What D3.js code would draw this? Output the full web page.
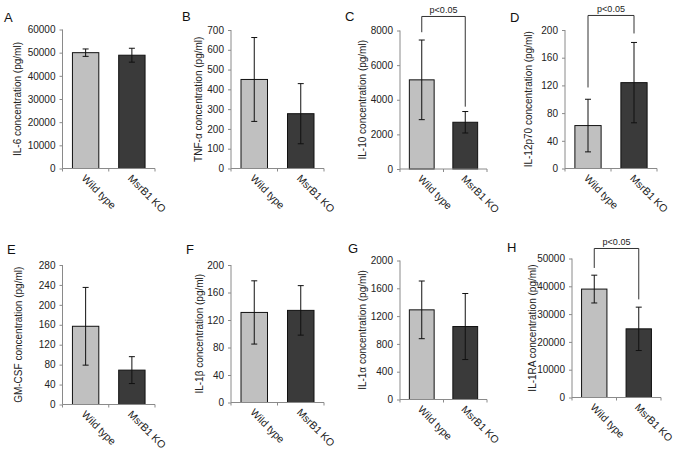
<!DOCTYPE html>
<html>
<head>
<meta charset="utf-8">
<script src="https://cdn.jsdelivr.net/npm/d3@7"></script>
<style>
  body { margin: 0; background: #fff; overflow: hidden; }
  svg { display: block; font-family: "Liberation Sans", Arial, sans-serif; }
  .tick text { fill: #222; }
</style>
</head>
<body>
<div id="chart"></div>
<script>
var categories = ["Wild type", "MsrB1 KO"];
var panelLetters = ["A", "B", "C", "D", "E", "F", "G", "H"];
var yTitles = [
  "IL-6 concentration (pg/ml)",
  "TNF-\u03b1 concentration (pg/ml)",
  "IL-10 concentration (pg/ml)",
  "IL-12p70 concentration (pg/ml)",
  "GM-CSF concentration (pg/ml)",
  "IL-1\u03b2 concentration (pg/ml)",
  "IL-1\u03b1 concentration (pg/ml)",
  "IL-1RA concentration (pg/ml)"
];
var wtMeans  = [50000, 450, 5150, 62, 157, 131, 1290, 39000];
var wtErrors = [1600, 212, 2300, 38, 78, 46, 415, 5000];
var koMeans  = [48900, 277, 2700, 124, 69, 134, 1050, 24700];
var koErrors = [3000, 152, 620, 58, 27, 36, 475, 7800];
var yMax  = [60000, 700, 8000, 200, 280, 200, 2000, 50000];
var yStep = [10000, 100, 2000, 40, 40, 40, 400, 10000];
var sigText = "p<0.05";
// significance brackets in data units: top of bracket, bottom of left leg, bottom of right leg
var brackets = [null, null, [8810, 7900, 3600], [221, 117, 195], null, null, null, [53600, 46600, 35300]];

// where each panel sits on the page
var layout = [
  {x0: 62.5, x1: 155, yTop: 29.5, yBot: 168.5, titleX: 17,  letterX: 4,   letterY: 22},
  {x0: 231,  x1: 324, yTop: 30,   yBot: 168.5, titleX: 198, letterX: 182, letterY: 21},
  {x0: 400,  x1: 487, yTop: 30.5, yBot: 169,   titleX: 362, letterX: 345, letterY: 21},
  {x0: 565,  x1: 657, yTop: 30,   yBot: 168.5, titleX: 528, letterX: 510, letterY: 22},
  {x0: 62.5, x1: 155, yTop: 265,  yBot: 404.5, titleX: 18,  letterX: 7,   letterY: 254},
  {x0: 231,  x1: 324, yTop: 265,  yBot: 402.5, titleX: 199, letterX: 186, letterY: 254},
  {x0: 400,  x1: 487, yTop: 260.5,yBot: 399.5, titleX: 362, letterX: 348, letterY: 253},
  {x0: 572,  x1: 661, yTop: 258.5,yBot: 397.5, titleX: 532, letterX: 507, letterY: 252}
];

var barColors = ["#c0c0c0", "#3a3a3a"];
var axisColor = "#8a8a8a";

var svg = d3.select("#chart").append("svg")
  .attr("width", 675)
  .attr("height", 452);

panelLetters.forEach(function(letter, i) {
  var L = layout[i];
  var g = svg.append("g");

  var x = d3.scaleBand().domain(categories).range([L.x0, L.x1])
    .paddingInner(0.43).paddingOuter(0.215);
  var y = d3.scaleLinear().domain([0, yMax[i]]).range([L.yBot, L.yTop]);

  var rows = [
    {cat: categories[0], mean: wtMeans[i], err: wtErrors[i], color: barColors[0]},
    {cat: categories[1], mean: koMeans[i], err: koErrors[i], color: barColors[1]}
  ];

  // y axis
  var yAxis = d3.axisLeft(y).tickValues(d3.range(0, yMax[i] + yStep[i] / 2, yStep[i]))
    .tickSize(3).tickPadding(4).tickFormat(d3.format("d"));
  var ya = g.append("g").attr("transform", "translate(" + L.x0 + ",0)").call(yAxis);
  ya.selectAll("path, line").attr("stroke", axisColor);
  ya.select(".domain").attr("d", "M0," + L.yTop + "V" + L.yBot);
  ya.selectAll("text").style("font-size", "10px");

  // bars
  g.selectAll(".bar").data(rows).enter().append("rect")
    .attr("x", function(d) { return x(d.cat); })
    .attr("width", x.bandwidth())
    .attr("y", function(d) { return y(d.mean); })
    .attr("height", function(d) { return y(0) - y(d.mean); })
    .attr("fill", function(d) { return d.color; })
    .attr("stroke", "#111")
    .attr("stroke-width", 1);

  // x axis with ticks at category boundaries
  var xa = g.append("g");
  xa.append("line").attr("x1", L.x0).attr("x2", L.x1).attr("y1", L.yBot).attr("y2", L.yBot)
    .attr("stroke", axisColor);
  [L.x0, L.x0 + (L.x1 - L.x0) / 2, L.x1].forEach(function(tx) {
    xa.append("line").attr("x1", tx).attr("x2", tx).attr("y1", L.yBot).attr("y2", L.yBot + 3)
      .attr("stroke", axisColor);
  });

  // error bars
  var eb = g.selectAll(".err").data(rows).enter().append("g");
  eb.append("line")
    .attr("x1", function(d) { return x(d.cat) + x.bandwidth() / 2; })
    .attr("x2", function(d) { return x(d.cat) + x.bandwidth() / 2; })
    .attr("y1", function(d) { return y(d.mean - d.err); })
    .attr("y2", function(d) { return y(d.mean + d.err); })
    .attr("stroke", "#111");
  [-1, 1].forEach(function(s) {
    eb.append("line")
      .attr("x1", function(d) { return x(d.cat) + x.bandwidth() / 2 - 3; })
      .attr("x2", function(d) { return x(d.cat) + x.bandwidth() / 2 + 3; })
      .attr("y1", function(d) { return y(d.mean + s * d.err); })
      .attr("y2", function(d) { return y(d.mean + s * d.err); })
      .attr("stroke", "#111");
  });

  // category labels, rotated
  g.selectAll(".cat").data(categories).enter().append("text")
    .attr("transform", function(d) {
      return "translate(" + (x(d) + x.bandwidth() / 2 - 2) + "," + (L.yBot + 8) + ") rotate(45)";
    })
    .attr("dy", "0.35em")
    .style("font-size", "10.5px")
    .attr("fill", "#222")
    .text(function(d) { return d; });

  // y title
  g.append("text")
    .attr("transform", "translate(" + L.titleX + "," + ((L.yTop + L.yBot) / 2) + ") rotate(-90)")
    .attr("text-anchor", "middle")
    .attr("dy", "0.35em")
    .style("font-size", "10px")
    .attr("fill", "#222")
    .text(yTitles[i]);

  // panel letter
  g.append("text")
    .attr("x", L.letterX).attr("y", L.letterY)
    .style("font-size", "13px")
    .attr("fill", "#111")
    .text(letter);

  // significance bracket
  if (brackets[i]) {
    var b = brackets[i];
    var xl = x(categories[0]) + x.bandwidth() / 2;
    var xr = x(categories[1]) + x.bandwidth() / 2;
    g.append("path")
      .attr("d", "M" + xl + "," + y(b[1]) + "V" + y(b[0]) + "H" + xr + "V" + y(b[2]))
      .attr("fill", "none")
      .attr("stroke", "#333");
    g.append("text")
      .attr("x", (xl + xr) / 2).attr("y", y(b[0]) - 3)
      .attr("text-anchor", "middle")
      .style("font-size", "9px")
      .attr("fill", "#222")
      .text(sigText);
  }
});
</script>
</body>
</html>
